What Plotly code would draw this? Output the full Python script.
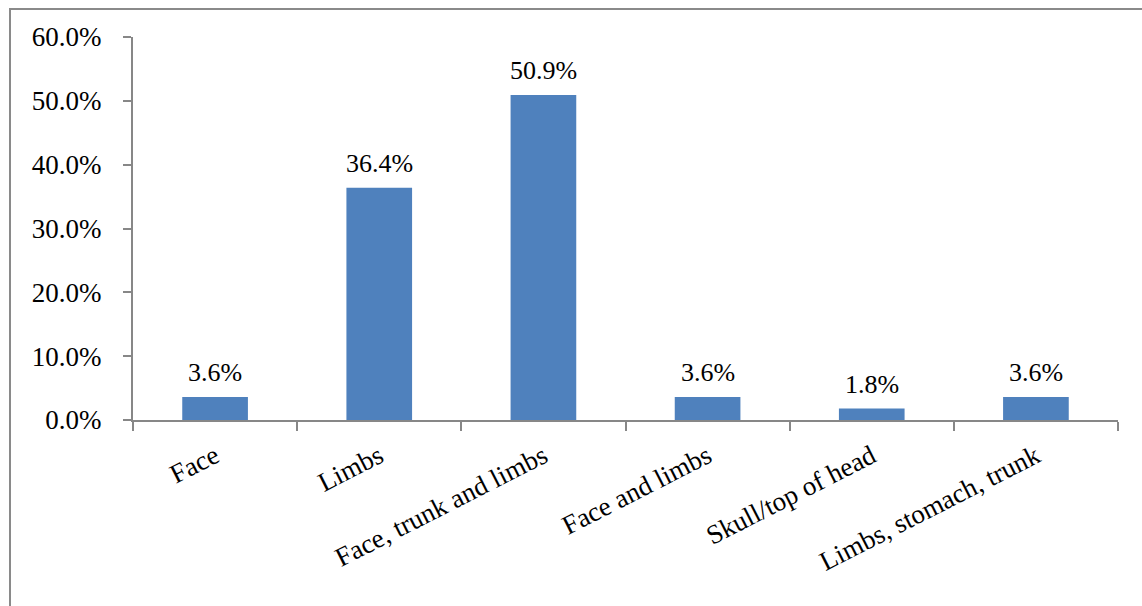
import plotly.graph_objects as go

categories = ["Face", "Limbs", "Face, trunk and limbs", "Face and limbs",
              "Skull/top of head", "Limbs, stomach, trunk"]
values = [3.6, 36.4, 50.9, 3.6, 1.8, 3.6]
y_ticks = [0, 10, 20, 30, 40, 50, 60]
y_tick_labels = [f"{v:.1f}%" for v in y_ticks]

FONT = "Liberation Serif, Times New Roman, serif"
AXIS = "#878787"

W, H = 1142, 606
L, R, T, B = 133, 24, 37, 186
pw, ph = W - L - R, H - T - B

fig = go.Figure(go.Bar(
    x=categories, y=values,
    marker=dict(color="#4F81BD", line=dict(width=0)),
    width=0.4,
    hoverinfo="x+y",
))

for c, v in zip(categories, values):
    fig.add_annotation(x=c, y=v, text=f"{v:.1f}%", showarrow=False,
                       yanchor="bottom", yshift=8,
                       font=dict(family=FONT, size=26, color="#000"))

# outer chart border
fig.add_shape(type="rect", xref="paper", yref="paper",
              x0=(10 - L) / pw, x1=(W + 5 - L) / pw,
              y0=-(H + 5 - T - ph) / ph, y1=(H - B - 9) / ph,
              line=dict(color="#8a8a8a", width=2), fillcolor="rgba(0,0,0,0)",
              layer="below")

fig.update_layout(
    width=W, height=H,
    margin=dict(l=L, r=R, t=T, b=B),
    paper_bgcolor="white", plot_bgcolor="white",
    showlegend=False,
    font=dict(family=FONT, size=26, color="#000"),
    xaxis=dict(
        type="category", tickson="boundaries", ticks="outside", ticklen=9,
        tickcolor=AXIS, tickwidth=2, showline=True, linecolor=AXIS, linewidth=2,
        tickangle=-27, tickfont=dict(family=FONT, size=27), showgrid=False,
        range=[-0.5, 5.5], ticklabelstandoff=8,
    ),
    yaxis=dict(
        range=[0, 60], tickvals=y_ticks, ticktext=y_tick_labels,
        ticks="outside", ticklen=8, tickcolor=AXIS, tickwidth=2,
        showline=True, linecolor=AXIS, linewidth=2, showgrid=False,
        zeroline=False, tickfont=dict(family=FONT, size=27),
        ticklabelstandoff=16,
    ),
)

fig.write_html("out.html")
